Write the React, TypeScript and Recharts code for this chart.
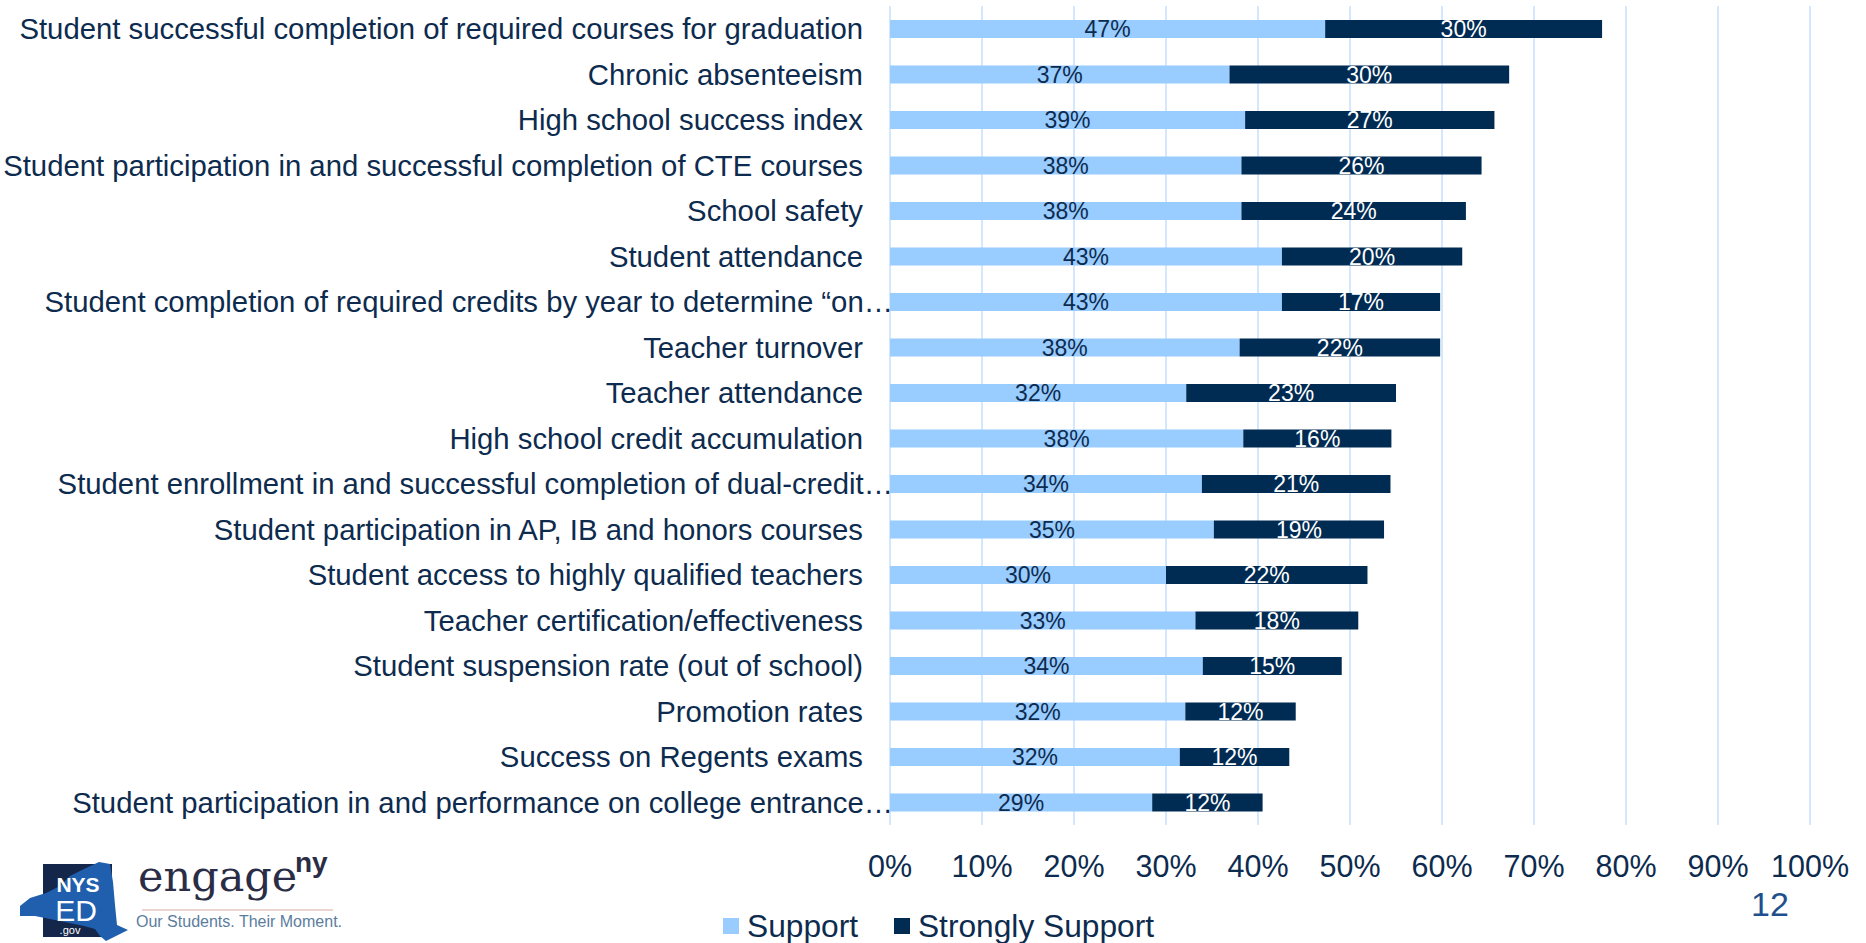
import React from "react";
import {
  BarChart,
  Bar,
  XAxis,
  YAxis,
  CartesianGrid,
  LabelList,
  Legend,
} from "recharts";

// survey categories, top to bottom
const categories = [
  "Student successful completion of required courses for graduation",
  "Chronic absenteeism",
  "High school success index",
  "Student participation in and successful completion of CTE courses",
  "School safety",
  "Student attendance",
  "Student completion of required credits by year to determine \u201con\u2026",
  "Teacher turnover",
  "Teacher attendance",
  "High school credit accumulation",
  "Student enrollment in and successful completion of dual-credit\u2026",
  "Student participation in AP, IB and honors courses",
  "Student access to highly qualified teachers",
  "Teacher certification/effectiveness",
  "Student suspension rate (out of school)",
  "Promotion rates",
  "Success on Regents exams",
  "Student participation in and performance on college entrance\u2026",
];

// percentages (labels show them rounded)
const support = [47.3, 36.9, 38.6, 38.2, 38.2, 42.6, 42.6, 38.0, 32.2, 38.4, 33.9, 35.2, 30.0, 33.2, 34.0, 32.1, 31.5, 28.5];
const stronglySupport = [30.1, 30.4, 27.1, 26.1, 24.4, 19.6, 17.2, 21.8, 22.8, 16.1, 20.5, 18.5, 21.9, 17.7, 15.1, 12.0, 11.9, 12.0];

const xTicks = [0, 10, 20, 30, 40, 50, 60, 70, 80, 90, 100];

const data = categories.map((name, i) => ({
  name,
  support: support[i],
  strong: stronglySupport[i],
}));

const LIGHT = "#99CCFF";
const DARK = "#002B53";
const TEXT = "#0D2B4E";
const FONT = "'Liberation Sans', Arial, sans-serif";

const pct = (v: any) => `${Math.round(Number(v))}%`;

function CategoryTick({ x, y, payload }: any) {
  const label: string = payload.value;
  const clipped = label.endsWith("\u2026");
  return (
    <text
      x={clipped ? x + 3 : x - 27}
      y={y}
      textAnchor="end"
      dominantBaseline="central"
      fontSize={29.3}
      fontFamily={FONT}
      fill={TEXT}
    >
      {label}
    </text>
  );
}

function PercentTick({ x, y, payload }: any) {
  return (
    <text x={x} y={y + 52} textAnchor="middle" fontSize={30.5} fontFamily={FONT} fill={TEXT}>
      {payload.value}%
    </text>
  );
}

function LegendContent() {
  const item = (color: string, text: string, gap: number) => (
    <div style={{ display: "flex", alignItems: "center", marginRight: gap }}>
      <div style={{ width: 16, height: 16, background: color, marginRight: 8 }} />
      <span style={{ fontSize: 31.7, color: TEXT, fontFamily: FONT }}>{text}</span>
    </div>
  );
  return (
    <div style={{ display: "flex", alignItems: "center", height: 34, paddingLeft: 723 }}>
      {item(LIGHT, "Support", 36)}
      {item(DARK, "Strongly Support", 0)}
    </div>
  );
}

function Logo() {
  return (
    <svg width={360} height={100} style={{ position: "absolute", left: 0, top: 843 }}>
      <g transform="translate(0,-843)">
        <rect x={43} y={864} width={69} height={73} fill="#14264a" />
        <polygon
          points="20,906 30,898 46,893 60,886 70,876 84,869 99,862 110,864 113,882 115,905 117,925 128,930 106,941 100,936 95,929 84,926 60,921 35,916 20,916"
          fill="#1f5fae"
        />
        <text x={78} y={892} textAnchor="middle" fontSize={21} fontWeight="bold" fill="#fff" fontFamily={FONT}>
          NYS
        </text>
        <text x={76} y={921} textAnchor="middle" fontSize={30} fill="#fff" fontFamily={FONT}>
          ED
        </text>
        <text x={70} y={934} textAnchor="middle" fontSize={11} fill="#fff" fontFamily={FONT}>
          .gov
        </text>
        <text x={138} y={891} fontSize={43} fill="#2a2d45" fontFamily="'DejaVu Serif', serif">
          engage
        </text>
        <text x={295} y={872} fontSize={28} fontWeight="bold" fill="#2a2d45" fontFamily={FONT}>
          ny
        </text>
        <line x1={142} x2={333} y1={910} y2={910} stroke="#d9a9a3" strokeWidth={1.2} />
        <text x={136} y={927} fontSize={16} fill="#5b7d9d" fontFamily={FONT}>
          Our Students. Their Moment.
        </text>
      </g>
    </svg>
  );
}

export default function App() {
  return (
    <div style={{ position: "absolute", left: 0, top: 0, width: 1866, height: 943, background: "#fff" }}>
      <BarChart
        width={1866}
        height={943}
        data={data}
        layout="vertical"
        margin={{ top: 6, right: 56, bottom: 0, left: 0 }}
        barSize={18}
      >
        <CartesianGrid horizontal={false} stroke="#c4e1fb" strokeWidth={1.5} />
        <XAxis
          type="number"
          domain={[0, 100]}
          ticks={xTicks}
          axisLine={false}
          tickLine={false}
          tickSize={0}
          tickMargin={0}
          height={84}
          tick={<PercentTick />}
          interval={0}
        />
        <YAxis
          type="category"
          dataKey="name"
          width={890}
          axisLine={false}
          tickLine={false}
          tickSize={0}
          tickMargin={0}
          tick={<CategoryTick />}
          interval={0}
        />
        <Legend verticalAlign="bottom" height={34} content={<LegendContent />} wrapperStyle={{ left: 0, width: 1866, bottom: 0 }} />
        <Bar dataKey="support" name="Support" stackId="a" fill={LIGHT} isAnimationActive={false}>
          <LabelList
            dataKey="support"
            position="center"
            formatter={pct}
            fill={TEXT}
            fontSize={23}
            fontFamily={FONT}
          />
        </Bar>
        <Bar dataKey="strong" name="Strongly Support" stackId="a" fill={DARK} isAnimationActive={false}>
          <LabelList
            dataKey="strong"
            position="center"
            formatter={pct}
            fill="#ffffff"
            fontSize={23}
            fontFamily={FONT}
          />
        </Bar>
      </BarChart>
      <Logo />
      <svg width={100} height={60} style={{ position: "absolute", left: 1720, top: 880 }}>
        <text x={50} y={36} textAnchor="middle" fontSize={34} fill="#1f4f8c" fontFamily={FONT}>
          12
        </text>
      </svg>
    </div>
  );
}
